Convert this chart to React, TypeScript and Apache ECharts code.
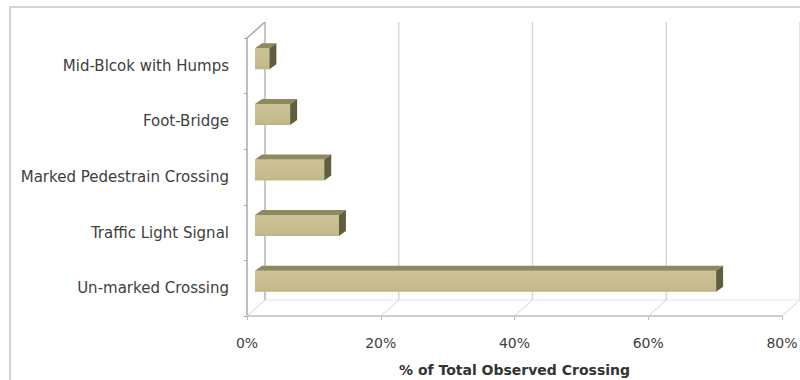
import React, { useEffect, useRef } from "react";
import * as echarts from "echarts";

const categories = [
  "Un-marked Crossing",
  "Traffic Light Signal",
  "Marked Pedestrain Crossing",
  "Foot-Bridge",
  "Mid-Blcok with Humps",
];
const values = [69.1, 12.7, 10.5, 5.4, 2.3];
const xTicks = [0, 20, 40, 60, 80];
const axisName = "% of Total Observed Crossing";

const WALL_DX = 18;
const WALL_DY = 16;

export default function App() {
  const ref = useRef<HTMLDivElement>(null);
  useEffect(() => {
    if (!ref.current) return;
    const chart = echarts.init(ref.current, null, { renderer: "svg" });
    const font = "'DejaVu Sans', 'Noto Sans', sans-serif";
    chart.setOption({
      animation: false,
      backgroundColor: "#ffffff",
      graphic: [
        {
          type: "rect",
          silent: true,
          shape: { x: 10, y: 7, width: 800, height: 400 },
          style: { fill: "none", stroke: "#d3d3d3", lineWidth: 2 },
          z: 0,
        },
      ],
      grid: {
        left: 247,
        right: 18,
        top: 38,
        bottom: 64,
        containLabel: false,
        outerBoundsMode: "none",
      },
      xAxis: {
        type: "value",
        min: 0,
        max: 80,
        interval: 20,
        splitLine: { show: false },
        axisLine: { show: true, lineStyle: { color: "#bdbdbd", width: 1.5 } },
        axisTick: { show: true, length: 4, lineStyle: { color: "#bdbdbd" } },
        axisLabel: {
          formatter: "{value}%",
          margin: 20,
          fontFamily: font,
          fontSize: 14,
          color: "#404040",
        },
        name: axisName,
        nameLocation: "middle",
        nameGap: 47,
        nameTextStyle: {
          fontFamily: font,
          fontSize: 14,
          fontWeight: "bold",
          color: "#333333",
        },
      },
      yAxis: {
        type: "category",
        data: categories,
        axisLine: { show: true, lineStyle: { color: "#a8a8a8", width: 1.5 } },
        axisTick: { show: true, length: 3, lineStyle: { color: "#a8a8a8" } },
        axisLabel: {
          margin: 18,
          fontFamily: font,
          fontSize: 15,
          color: "#404040",
          padding: [3, 0, 0, 0],
        },
        splitLine: { show: false },
      },
      series: [
        {
          type: "custom",
          clip: false,
          silent: true,
          z: 1,
          data: xTicks.map((t) => [t, 0]),
          encode: { x: 0, y: 1 },
          renderItem: (params: any, api: any) => {
            const cs = params.coordSys;
            const px = api.coord([api.value(0), 0])[0];
            const top = cs.y;
            const bot = cs.y + cs.height;
            const first = params.dataIndex === 0;
            const color = first ? "#b5b5b5" : "#d8d8d8";
            const children: any[] = [
              {
                type: "line",
                shape: { x1: px + WALL_DX, y1: top - WALL_DY, x2: px + WALL_DX, y2: bot - WALL_DY },
                style: { stroke: color, lineWidth: 1.5 },
              },
              {
                type: "line",
                shape: { x1: px, y1: bot, x2: px + WALL_DX, y2: bot - WALL_DY },
                style: { stroke: "#cfd4e2", lineWidth: 1 },
              },
            ];
            if (first) {
              children.push(
                {
                  type: "line",
                  shape: { x1: px, y1: top, x2: px + WALL_DX, y2: top - WALL_DY },
                  style: { stroke: "#a8a8a8", lineWidth: 1.5 },
                },
                {
                  type: "line",
                  shape: {
                    x1: px + WALL_DX,
                    y1: bot - WALL_DY,
                    x2: cs.x + cs.width + WALL_DX,
                    y2: bot - WALL_DY,
                  },
                  style: { stroke: "#dfe4f0", lineWidth: 1 },
                }
              );
            }
            return { type: "group", children };
          },
        },
        {
          type: "custom",
          clip: false,
          z: 3,
          data: values.map((v, i) => [v, i]),
          encode: { x: 0, y: 1 },
          renderItem: (params: any, api: any) => {
            const v = api.value(0);
            const c = api.value(1);
            const s = api.coord([0, c]);
            const e = api.coord([v, c]);
            const x0 = s[0] + 8;
            const x1 = e[0] + 7;
            const yc = s[1] - 7;
            const h = 21;
            const y0 = yc - h / 2;
            const y1 = yc + h / 2;
            const dx = 7;
            const dy = 5;
            return {
              type: "group",
              children: [
                {
                  type: "rect",
                  shape: { x: x0, y: y0, width: x1 - x0, height: h },
                  style: {
                    fill: new echarts.graphic.LinearGradient(0, 0, 0, 1, [
                      { offset: 0, color: "#cdc297" },
                      { offset: 0.85, color: "#c5ba8b" },
                      { offset: 1, color: "#b9b888" },
                    ]),
                  },
                },
                {
                  type: "polygon",
                  shape: {
                    points: [
                      [x0, y0],
                      [x0 + dx, y0 - dy],
                      [x1 + dx, y0 - dy],
                      [x1, y0],
                    ],
                  },
                  style: { fill: "#8d8a5d" },
                },
                {
                  type: "polygon",
                  shape: {
                    points: [
                      [x1, y0],
                      [x1 + dx, y0 - dy],
                      [x1 + dx, y1 - dy],
                      [x1, y1],
                    ],
                  },
                  style: { fill: "#615e40" },
                },
              ],
            };
          },
        },
      ],
    });
    return () => chart.dispose();
  }, []);
  return (
    <div
      ref={ref}
      style={{ position: "fixed", left: 0, top: 0, width: 800, height: 380 }}
    />
  );
}
